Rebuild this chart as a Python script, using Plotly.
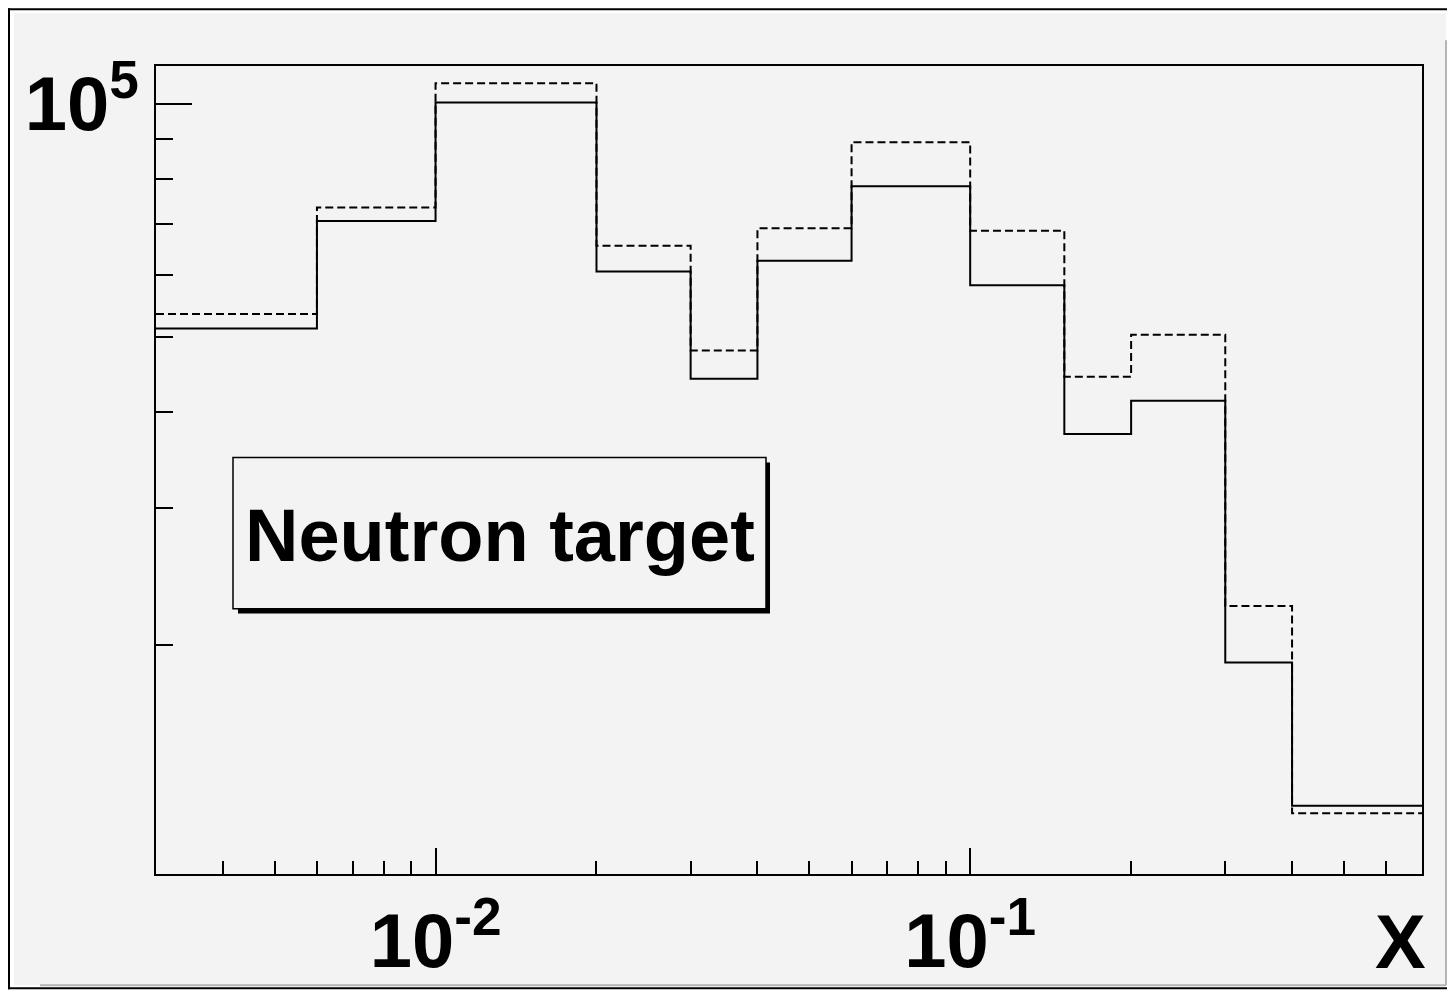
import plotly.graph_objects as go
import math

# ---- data ----
bin_edges = [0.003, 0.006, 0.01, 0.02, 0.03, 0.04, 0.06, 0.1, 0.15, 0.2, 0.3, 0.4, 0.7]
solid_counts = [51250, 70560, 100390, 60720, 44120, 62680, 78250, 58270, 37430, 41340, 18970, 12390]
dashed_counts = [53480, 73470, 106300, 65530, 47990, 69040, 89200, 68550, 44380, 50300, 22440, 12110]
x_tick_vals = [0.01, 0.1]
x_tick_text = ["10<sup>-2</sup>", "10<sup>-1</sup>"]
x_minor_vals = [0.004, 0.005, 0.006, 0.007, 0.008, 0.009,
                0.02, 0.03, 0.04, 0.05, 0.06, 0.07, 0.08, 0.09,
                0.2, 0.3, 0.4, 0.5, 0.6, 0.7]
y_tick_vals = [1e5]
y_tick_text = ["10<sup>5</sup>"]
y_minor_vals = [2e4, 3e4, 4e4, 5e4, 6e4, 7e4, 8e4, 9e4]
label_text = "Neutron target"
x_title = "X"

# ---- layout constants (page pixel coordinates) ----
OFF = 8                      # default body margin of the html page
W, H = 1455 - 2 * OFF, 1003 - 2 * OFF
L, R, T, B = 156, 1422, 66, 879
PW, PH = R - L, B - T
BG = "#f3f3f3"
FONT = "Liberation Sans"


def px(xp):
    return (xp - L) / PW


def py(yp):
    return (B - yp) / PH


fig = go.Figure()

fig.add_trace(go.Scatter(
    x=bin_edges, y=dashed_counts + [dashed_counts[-1]],
    mode="lines", line=dict(shape="hv", color="black", width=2, dash="8px,4px"),
    showlegend=False, hoverinfo="skip"))
fig.add_trace(go.Scatter(
    x=bin_edges, y=solid_counts + [solid_counts[-1]],
    mode="lines", line=dict(shape="hv", color="black", width=2),
    showlegend=False, hoverinfo="skip"))

shapes = [
    # canvas
    dict(type="rect", xref="paper", yref="paper", x0=px(14), x1=px(1446), y0=py(991), y1=py(13),
         fillcolor=BG, line=dict(width=0), layer="below"),
    dict(type="line", xref="paper", yref="paper", x0=px(9), x1=px(9), y0=py(995), y1=py(8),
         line=dict(color="black", width=2)),
    dict(type="line", xref="paper", yref="paper", x0=px(8), x1=px(1447), y0=py(9), y1=py(9),
         line=dict(color="black", width=2)),
    dict(type="line", xref="paper", yref="paper", x0=px(8), x1=px(1447), y0=py(994), y1=py(994),
         line=dict(color="black", width=2)),
    dict(type="line", xref="paper", yref="paper", x0=px(1446), x1=px(1446), y0=py(991), y1=py(40),
         line=dict(color="#b4b4b4", width=2)),
    dict(type="line", xref="paper", yref="paper", x0=px(40), x1=px(1446), y0=py(991), y1=py(991),
         line=dict(color="#b4b4b4", width=2)),
    # label box shadow + box
    dict(type="rect", xref="paper", yref="paper", x0=px(238), x1=px(770), y0=py(617), y1=py(465),
         fillcolor="black", line=dict(width=0)),
    dict(type="rect", xref="paper", yref="paper", x0=px(233), x1=px(766), y0=py(612), y1=py(460),
         fillcolor=BG, line=dict(color="black", width=1.5)),
]

annotations = [
    dict(text=label_text, xref="paper", yref="paper", x=px(500), y=py(538),
         xanchor="center", yanchor="middle", showarrow=False,
         font=dict(family=FONT, size=74, color="black", weight="bold")),
    dict(text=x_title, xref="paper", yref="paper", x=px(1400), y=py(947),
         xanchor="center", yanchor="middle", showarrow=False,
         font=dict(family=FONT, size=76, color="black", weight="bold")),
]

fig.update_layout(
    width=W, height=H,
    margin=dict(l=L - OFF, r=OFF + W - R, t=T - OFF, b=OFF + H - B, pad=0),
    paper_bgcolor="white", plot_bgcolor=BG,
    shapes=shapes, annotations=annotations,
    showlegend=False,
)

fig.update_xaxes(
    type="log", range=[math.log10(0.003), math.log10(0.7)],
    showgrid=False, zeroline=False,
    showline=True, linecolor="black", linewidth=2, mirror=True,
    ticks="inside", ticklen=26, tickwidth=1.5, tickcolor="black",
    tickmode="array", tickvals=x_tick_vals, ticktext=x_tick_text,
    tickfont=dict(family=FONT, size=76, color="black", weight="bold"),
    minor=dict(ticks="inside", ticklen=13, tickwidth=1.5, tickcolor="black",
               tickmode="array", tickvals=x_minor_vals, showgrid=False),
)
fig.update_yaxes(
    type="log", range=[4.00475, 5.0488],
    showgrid=False, zeroline=False,
    showline=True, linecolor="black", linewidth=2, mirror=True,
    ticks="inside", ticklen=36, tickwidth=1.5, tickcolor="black",
    tickmode="array", tickvals=y_tick_vals, ticktext=y_tick_text,
    tickfont=dict(family=FONT, size=76, color="black", weight="bold"),
    minor=dict(ticks="inside", ticklen=17, tickwidth=1.5, tickcolor="black",
               tickmode="array", tickvals=y_minor_vals, showgrid=False),
)

fig.write_html("out.html")
